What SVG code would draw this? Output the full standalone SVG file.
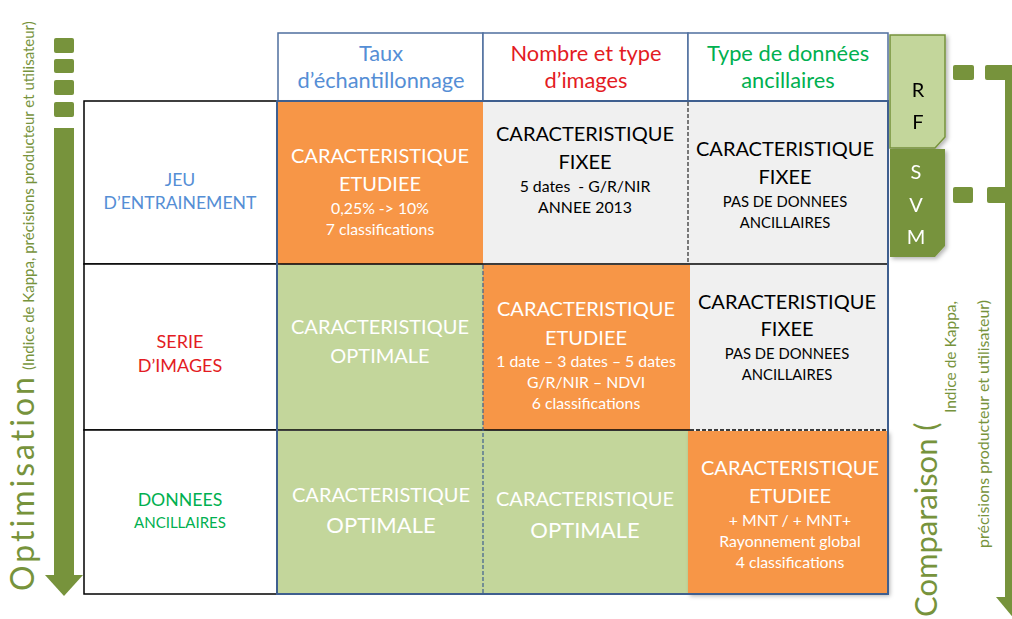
<svg xmlns="http://www.w3.org/2000/svg" width="1012" height="619" viewBox="0 0 1012 619">
<defs>
<style>
text{font-family:Lato,"Open Sans","Liberation Sans",sans-serif;text-anchor:middle}
.big{font-size:20px}
.hd{font-size:21.8px}
.sm{font-size:15.8px}
.pas{font-size:14.8px}
.w{fill:#ffffff}
.k{fill:#000000}
.hb{fill:#558ed5}
.hr{fill:#e31b23}
.hg{fill:#00b050}
.or{fill:#f79646}
.gr{fill:#c3d69b}
.gy{fill:#f0f0f0}
.dg{fill:#77933c}
.hdr{fill:#ffffff;stroke:#4f6f9f;stroke-width:1.5}
.rh{fill:#ffffff;stroke:#000;stroke-width:1.5}
</style>
<filter id="sh" x="-10%" y="-10%" width="130%" height="130%">
<feDropShadow dx="2" dy="2" stdDeviation="2" flood-color="#000" flood-opacity="0.3"/>
</filter>
</defs>
<rect width="1012" height="619" fill="#ffffff"/>

<!-- left arrow -->
<g id="optim-arrow" class="dg">
<rect x="54" y="38" width="20" height="15" rx="2"/>
<rect x="54" y="59" width="20" height="14" rx="2"/>
<rect x="54" y="80" width="20" height="15" rx="2"/>
<rect x="54" y="102" width="20" height="15" rx="2"/>
<rect x="54" y="128" width="20" height="448"/>
<polygon points="45,575 83,575 64,596"/>
</g>
<g id="optim-label">
<text transform="translate(34,591) rotate(-90)" style="text-anchor:start;fill:#77933c"><tspan font-size="32" letter-spacing="3">Optimisation</tspan><tspan font-size="15" dx="4">(Indice de Kappa, précisions producteur et utilisateur)</tspan></text>
</g>

<!-- column headers -->
<g id="col1-head"><rect class="hdr" x="278" y="33" width="205" height="68"/>
<text class="hd hb" x="381" y="61">Taux</text><text class="hd hb" x="381" y="88">d’échantillonnage</text></g>
<g id="col2-head"><rect class="hdr" x="483" y="33" width="205" height="68"/>
<text class="hd hr" x="586" y="61">Nombre et type</text><text class="hd hr" x="586" y="88">d’images</text></g>
<g id="col3-head"><rect class="hdr" x="688" y="33" width="200" height="68"/>
<text class="hd hg" x="788" y="61">Type de données</text><text class="hd hg" x="788" y="88">ancillaires</text></g>

<!-- row headers -->
<g id="row1-head"><rect class="rh" x="84" y="101" width="193" height="163"/>
<text class="hb" font-size="17.6" x="180" y="186">JEU</text><text class="hb" font-size="17.6" x="180" y="209">D’ENTRAINEMENT</text></g>
<g id="row2-head"><rect class="rh" x="84" y="264" width="193" height="166"/>
<text class="hr" font-size="18" x="180" y="348">SERIE</text><text class="hr" font-size="18" x="180" y="372">D’IMAGES</text></g>
<g id="row3-head"><rect class="rh" x="84" y="430" width="193" height="164"/>
<text class="hg" font-size="17.7" x="180" y="506">DONNEES</text><text class="hg" font-size="15" x="180" y="528">ANCILLAIRES</text></g>

<!-- RF / SVM -->
<g id="rf" filter="url(#sh)">
<polygon points="890,35 945,35 945,137 935,148 890,148" fill="#c3d69b" stroke="#77933c" stroke-width="1.5"/>
<text class="big k" x="918" y="97">R</text><text class="big k" x="918" y="129">F</text>
</g>
<g id="svm" filter="url(#sh)">
<polygon points="890,149 945,149 945,246 935,257 890,257" fill="#77933c"/>
<text class="big w" x="916" y="179">S</text><text class="big w" x="916" y="212">V</text><text class="big w" x="916" y="244">M</text>
</g>

<!-- cells -->
<g id="r1c1"><rect class="or" x="278" y="102" width="205" height="162" filter="url(#sh)"/>
<text class="big w" x="380" y="163">CARACTERISTIQUE</text><text class="big w" x="380" y="191">ETUDIEE</text>
<text class="sm w" x="380" y="214">0,25% -&gt; 10%</text><text class="sm w" x="380" y="235">7 classifications</text></g>
<g id="r1c2"><rect class="gy" x="483" y="102" width="205" height="162"/>
<text class="big k" x="585" y="141">CARACTERISTIQUE</text><text class="big k" x="585" y="169">FIXEE</text>
<text class="sm k" x="585" y="192" xml:space="preserve">5 dates  - G/R/NIR</text><text class="sm k" x="585" y="213">ANNEE 2013</text></g>
<g id="r1c3"><rect class="gy" x="688" y="102" width="199" height="162"/>
<text class="big k" x="785" y="156">CARACTERISTIQUE</text><text class="big k" x="785" y="184">FIXEE</text>
<text class="pas k" x="785" y="207">PAS DE DONNEES</text><text class="pas k" x="785" y="228">ANCILLAIRES</text></g>

<g id="r2c1"><rect class="gr" x="278" y="265" width="205" height="165"/>
<text class="big w" x="380" y="334">CARACTERISTIQUE</text><text class="big w" x="380" y="363">OPTIMALE</text></g>
<g id="r2c2"><rect class="or" x="483" y="265" width="207" height="165" filter="url(#sh)"/>
<text class="big w" x="586" y="316">CARACTERISTIQUE</text><text class="big w" x="586" y="345">ETUDIEE</text>
<text class="sm w" x="586" y="367">1 date – 3 dates – 5 dates</text><text class="sm w" x="586" y="388">G/R/NIR – NDVI</text><text class="sm w" x="586" y="409">6 classifications</text></g>
<g id="r2c3"><rect class="gy" x="690" y="265" width="197" height="165"/>
<text class="big k" x="787" y="309">CARACTERISTIQUE</text><text class="big k" x="787" y="336">FIXEE</text>
<text class="pas k" x="787" y="359">PAS DE DONNEES</text><text class="pas k" x="787" y="380">ANCILLAIRES</text></g>

<g id="r3c1"><rect class="gr" x="278" y="431" width="205" height="163"/>
<text class="big w" x="381" y="502">CARACTERISTIQUE</text><text class="w" font-size="22" x="381" y="533">OPTIMALE</text></g>
<g id="r3c2"><rect class="gr" x="483" y="431" width="205" height="163"/>
<text class="big w" x="585" y="506">CARACTERISTIQUE</text><text class="w" font-size="22" x="585" y="538">OPTIMALE</text></g>
<g id="r3c3"><rect class="or" x="688" y="431" width="200" height="163" filter="url(#sh)"/>
<text class="big w" x="790" y="475">CARACTERISTIQUE</text><text class="big w" x="790" y="503">ETUDIEE</text>
<text class="sm w" x="790" y="526">+ MNT / + MNT+</text><text class="sm w" x="790" y="547">Rayonnement global</text><text class="sm w" x="790" y="568">4 classifications</text></g>

<!-- grid lines -->
<g id="grid" fill="none">
<line x1="277" y1="264" x2="888" y2="264" stroke="#000" stroke-width="1.5"/>
<line x1="277" y1="430" x2="690" y2="430" stroke="#000" stroke-width="1.5"/>
<line x1="690" y1="430" x2="888" y2="430" stroke="#000" stroke-width="1.5" stroke-dasharray="4,2"/>
<line x1="688" y1="102" x2="688" y2="264" stroke="#000" stroke-width="1" stroke-dasharray="4,2"/>
<line x1="483" y1="265" x2="483" y2="594" stroke="#3f5f8f" stroke-width="1.2" stroke-dasharray="4,2"/>
<rect x="277" y="101" width="611" height="493" stroke="#3f5f8f" stroke-width="2"/>
</g>

<!-- right arrow -->
<g id="comp-arrow" class="dg">
<rect x="953" y="65" width="21" height="15" rx="2"/>
<rect x="985" y="65" width="22" height="15" rx="2"/>
<rect x="953" y="187" width="20" height="16" rx="2"/>
<rect x="987" y="187" width="20" height="16" rx="2"/>
<rect x="1005" y="65" width="20" height="533"/>
<polygon points="996,597 1034,597 1015,620"/>
</g>
<g id="comp-label" style="fill:#77933c">
<text transform="translate(937,617) rotate(-90)" style="text-anchor:start" font-size="31">Comparaison (</text>
<text transform="translate(956,413) rotate(-90)" style="text-anchor:start" font-size="15.5">Indice de Kappa,</text>
<text transform="translate(989,548) rotate(-90)" style="text-anchor:start" font-size="16">précisions producteur et utilisateur)</text>
</g>
</svg>
